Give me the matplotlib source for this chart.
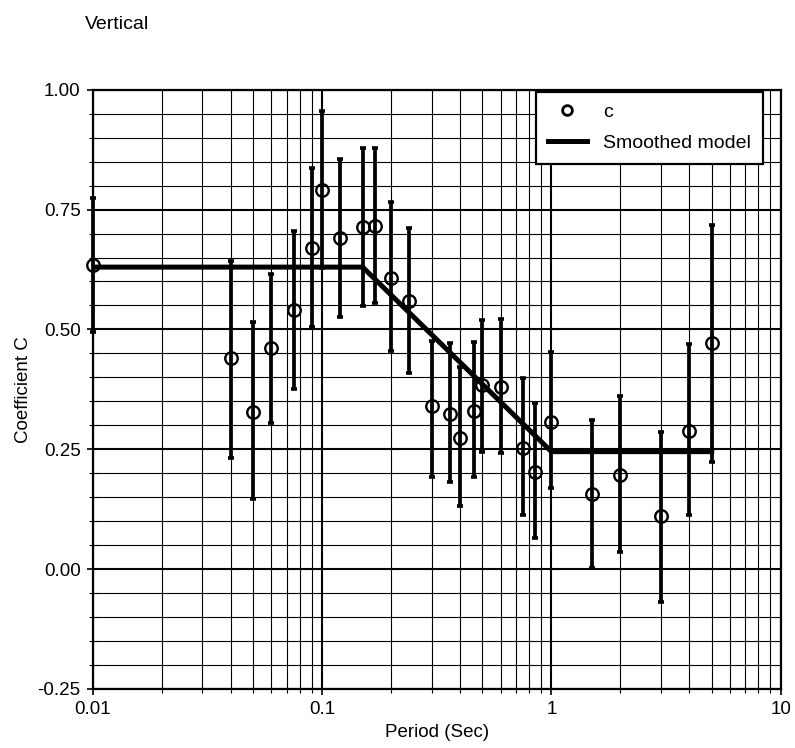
import numpy as np
import matplotlib
matplotlib.use("Agg")
import matplotlib.pyplot as plt
from matplotlib.ticker import LogLocator, FixedLocator, MultipleLocator, NullFormatter

plt.rcParams["font.family"] = ["Liberation Sans", "DejaVu Sans"]

# Coefficient C per period, with upper / lower bounds of the error bars
period = [0.01, 0.04, 0.05, 0.06, 0.075, 0.09, 0.1, 0.12, 0.15, 0.17, 0.2, 0.24,
          0.3, 0.36, 0.4, 0.46, 0.5, 0.6, 0.75, 0.85, 1.0, 1.5, 2.0, 3.0, 4.0, 5.0]
coef_c = [0.635, 0.44, 0.328, 0.461, 0.541, 0.670, 0.791, 0.691, 0.714, 0.716, 0.608, 0.560,
          0.340, 0.324, 0.274, 0.330, 0.384, 0.380, 0.253, 0.203, 0.307, 0.157, 0.197, 0.111, 0.288, 0.472]
upper = [0.775, 0.643, 0.516, 0.616, 0.706, 0.837, 0.956, 0.856, 0.879, 0.879, 0.766, 0.712,
         0.475, 0.472, 0.422, 0.474, 0.520, 0.522, 0.399, 0.347, 0.453, 0.311, 0.361, 0.286, 0.470, 0.718]
lower = [0.495, 0.232, 0.146, 0.305, 0.376, 0.505, 0.628, 0.526, 0.549, 0.555, 0.455, 0.409,
         0.192, 0.182, 0.132, 0.192, 0.245, 0.242, 0.113, 0.065, 0.169, 0.002, 0.036, -0.069, 0.113, 0.224]

# Piecewise smoothed model (linear in log period between corners)
model_period = [0.01, 0.15, 1.0, 5.0]
model_c = [0.63, 0.63, 0.245, 0.245]

fig = plt.figure(figsize=(7.95, 7.48), dpi=100)
ax = fig.add_axes([0.117, 0.079, 0.865, 0.801])

ax.set_xscale("log")
ax.set_xlim(0.01, 10)
ax.set_ylim(-0.25, 1.0)

# grid: heavier lines on decades / quarter steps, light lines elsewhere
ax.xaxis.set_major_locator(LogLocator(base=10, numticks=10))
ax.xaxis.set_minor_locator(LogLocator(base=10, subs=np.arange(2, 10), numticks=20))
ax.xaxis.set_minor_formatter(NullFormatter())
ax.yaxis.set_major_locator(FixedLocator([-0.25, 0, 0.25, 0.5, 0.75, 1.0]))
ax.yaxis.set_minor_locator(MultipleLocator(0.05))
ax.set_xticks([0.01, 0.1, 1, 10])
ax.set_xticklabels(["0.01", "0.1", "1", "10"])
ax.set_yticklabels(["-0.25", "0.00", "0.25", "0.50", "0.75", "1.00"])

ax.grid(which="major", color="black", linewidth=1.5)
ax.grid(which="minor", color="black", linewidth=0.8)
ax.set_axisbelow(True)
ax.tick_params(which="both", direction="inout", color="black", labelsize=13.5)
ax.tick_params(which="major", length=8, width=1.2, pad=5)
ax.tick_params(which="minor", length=6, width=0.8)
for s in ax.spines.values():
    s.set_linewidth(1.6)

yerr = [np.array(coef_c) - np.array(lower), np.array(upper) - np.array(coef_c)]
ax.errorbar(period, coef_c, yerr=yerr, fmt="none", ecolor="black",
            elinewidth=2.7, capsize=2.4, capthick=2.6, zorder=3, clip_on=False)
ax.plot(period, coef_c, "o", markersize=9, markerfacecolor="none",
        markeredgecolor="black", markeredgewidth=1.7, label="c", zorder=4, clip_on=False)
ax.plot(model_period, model_c, "-", color="black", linewidth=3.6,
        label="Smoothed model", zorder=3)

leg = ax.legend(loc="upper right", bbox_to_anchor=(0.977, 1.0), fontsize=14,
                frameon=True, fancybox=False, framealpha=1, edgecolor="black",
                borderpad=0.6, handlelength=2.0, handletextpad=0.85,
                labelspacing=0.7, borderaxespad=0.1)
leg.get_frame().set_linewidth(1.6)
for h in leg.legend_handles:
    if h.get_label() == "c":
        h.set_markersize(7)
        h.set_markeredgewidth(2)

ax.set_xlabel("Period (Sec)", fontsize=13.5, labelpad=4)
ax.set_ylabel("Coefficient C", fontsize=13.5, labelpad=4)
fig.text(0.107, 0.967, "Vertical", fontsize=14, ha="left", va="center")

fig.savefig("out.png", dpi=100)
